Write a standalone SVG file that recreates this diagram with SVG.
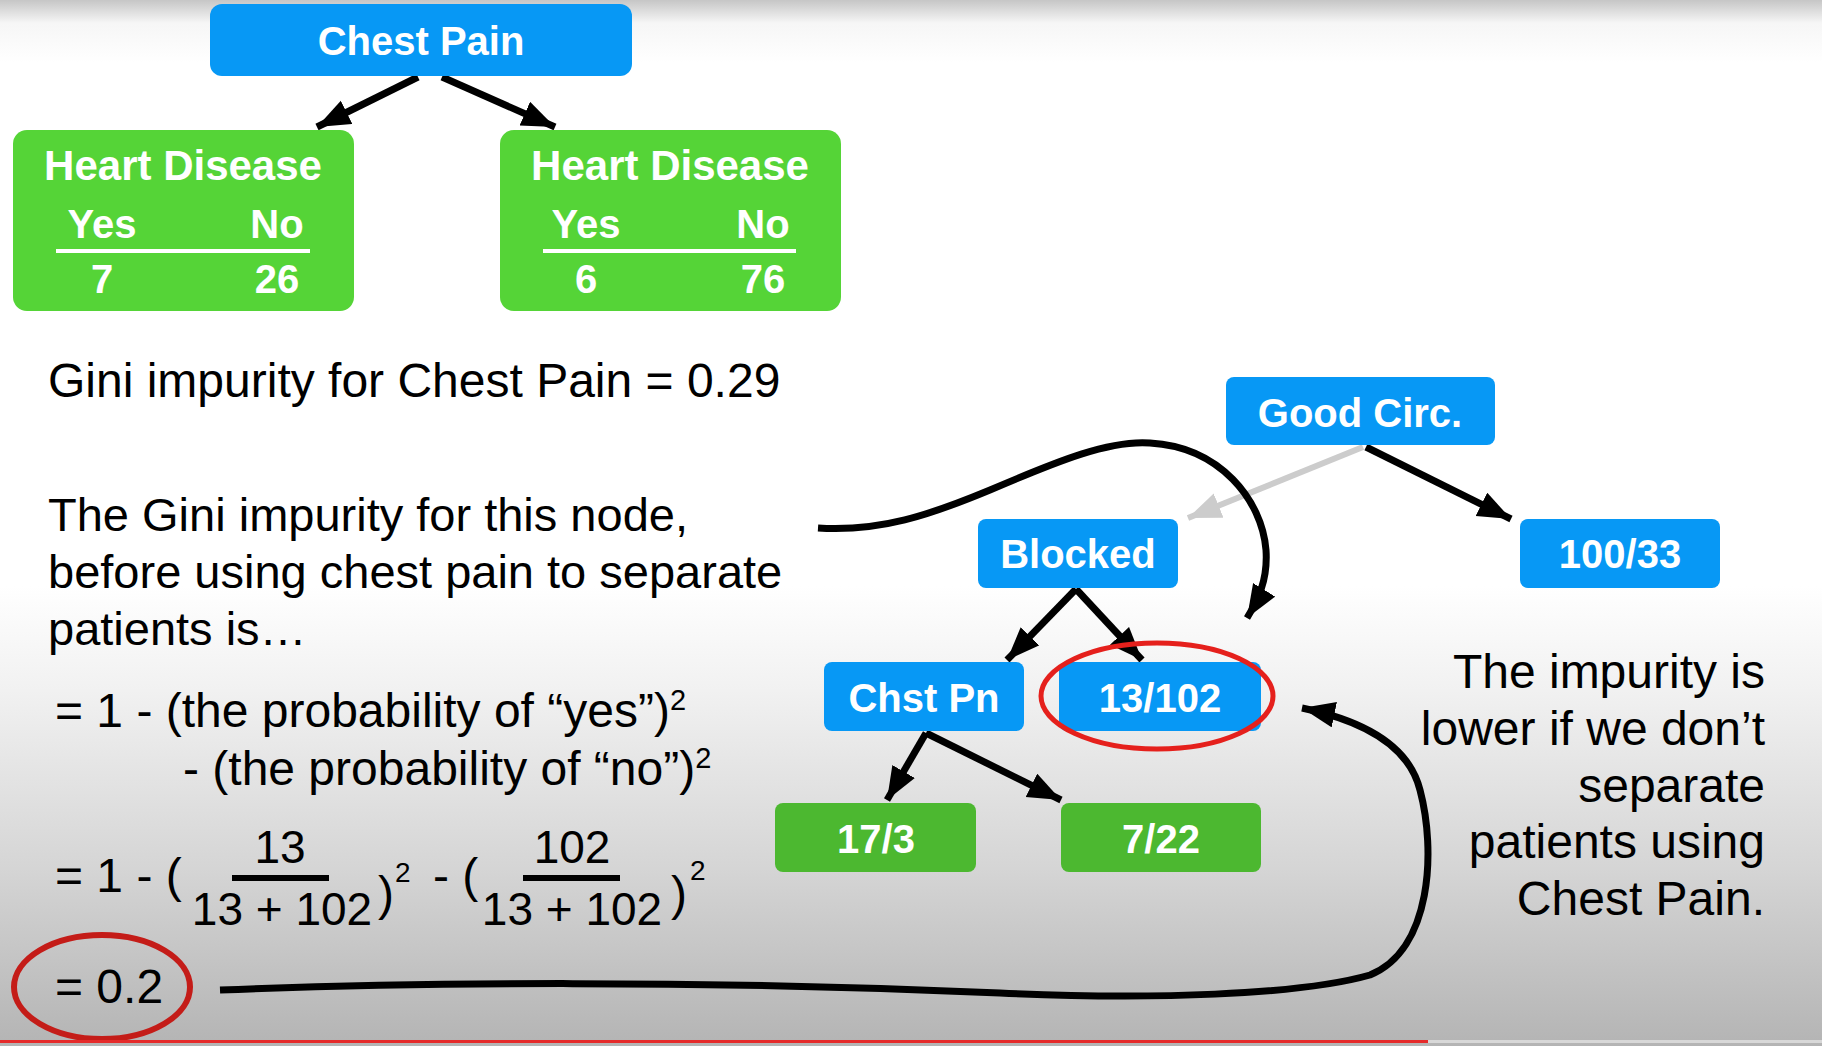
<svg xmlns="http://www.w3.org/2000/svg" width="1822" height="1046" viewBox="0 0 1822 1046">
<defs>
<linearGradient id="bg" x1="0" y1="0" x2="0" y2="1046" gradientUnits="userSpaceOnUse">
<stop offset="0" stop-color="#c6c6c6"/>
<stop offset="0.022" stop-color="#f6f6f6"/>
<stop offset="0.06" stop-color="#ffffff"/>
<stop offset="0.56" stop-color="#ffffff"/>
<stop offset="0.66" stop-color="#f1f1f1"/>
<stop offset="0.83" stop-color="#d5d5d5"/>
<stop offset="1" stop-color="#b4b4b4"/>
</linearGradient>
<marker id="ah" markerUnits="userSpaceOnUse" markerWidth="36" markerHeight="28" refX="33" refY="13" orient="auto">
<path d="M0,0 L33,13 L0,26 z" fill="#000"/>
</marker>
<marker id="ahg" markerUnits="userSpaceOnUse" markerWidth="36" markerHeight="28" refX="33" refY="13" orient="auto">
<path d="M0,0 L33,13 L0,26 z" fill="#cccccc"/>
</marker>
<style>
.blue{fill:#0798f5}
.green{fill:#55d437}
.dgreen{fill:#4cb830}
.lbl{font-family:"Liberation Sans",Arial,sans-serif;font-weight:bold;fill:#fff;font-size:40px;text-anchor:middle}
.body{font-family:"Liberation Sans",Arial,sans-serif;fill:#000;font-size:48px}
.sup{font-size:29px}
.con{fill:none;stroke:#000;stroke-width:7}
</style>
</defs>
<rect x="0" y="0" width="1822" height="1046" fill="url(#bg)"/>

<g id="connectors">
<path class="con" d="M418,77 L317,127" marker-end="url(#ah)"/>
<path class="con" d="M442,77 L555,127" marker-end="url(#ah)"/>
<path d="M1363,447 L1188,518" fill="none" stroke="#cccccc" stroke-width="6" marker-end="url(#ahg)"/>
<path class="con" d="M1366,447 L1511,519" marker-end="url(#ah)"/>
<path class="con" d="M1076,589 L1007,660" marker-end="url(#ah)"/>
<path class="con" d="M1076,589 L1142,660" marker-end="url(#ah)"/>
<path class="con" d="M926,733 L887,800" marker-end="url(#ah)"/>
<path class="con" d="M926,733 L1061,800" marker-end="url(#ah)"/>
<path class="con" d="M818,528 C880,532 930,515 990,490 C1060,460 1110,440 1150,443 C1220,447 1262,500 1266,550 C1268,580 1258,600 1247,618" marker-end="url(#ah)"/>
<path class="con" d="M220,990 C420,982 700,980 1000,993 C1150,1000 1300,995 1370,975 C1432,950 1436,850 1420,790 C1410,750 1370,722 1302,708" marker-end="url(#ah)"/>
</g>

<g id="node-chest-pain">
<rect class="blue" x="210" y="4" width="422" height="72" rx="12"/>
<text class="lbl" x="421" y="55" font-size="41">Chest Pain</text>
</g>

<g id="node-hd-left">
<rect class="green" x="13" y="130" width="341" height="181" rx="14"/>
<text class="lbl" x="183" y="180" style="font-size:42px">Heart Disease</text>
<text class="lbl" x="102" y="238">Yes</text>
<text class="lbl" x="277" y="238">No</text>
<rect x="56" y="249" width="254" height="4" fill="#fff"/>
<text class="lbl" x="102" y="293">7</text>
<text class="lbl" x="277" y="293">26</text>
</g>

<g id="node-hd-right">
<rect class="green" x="500" y="130" width="341" height="181" rx="14"/>
<text class="lbl" x="670" y="180" style="font-size:42px">Heart Disease</text>
<text class="lbl" x="586" y="238">Yes</text>
<text class="lbl" x="763" y="238">No</text>
<rect x="543" y="249" width="253" height="4" fill="#fff"/>
<text class="lbl" x="586" y="293">6</text>
<text class="lbl" x="763" y="293">76</text>
</g>

<g id="node-good-circ">
<rect class="blue" x="1226" y="377" width="269" height="68" rx="8"/>
<text class="lbl" x="1360" y="427">Good Circ.</text>
</g>

<g id="node-blocked">
<rect class="blue" x="978" y="519" width="200" height="69" rx="8"/>
<text class="lbl" x="1078" y="568">Blocked</text>
</g>

<g id="node-100-33">
<rect class="blue" x="1520" y="519" width="200" height="69" rx="8"/>
<text class="lbl" x="1620" y="568">100/33</text>
</g>

<g id="node-chst-pn">
<rect class="blue" x="824" y="662" width="200" height="69" rx="8"/>
<text class="lbl" x="924" y="712">Chst Pn</text>
</g>

<g id="node-13-102">
<rect class="blue" x="1059" y="662" width="202" height="69" rx="8"/>
<text class="lbl" x="1160" y="712">13/102</text>
</g>

<g id="node-17-3">
<rect class="dgreen" x="775" y="803" width="201" height="69" rx="8"/>
<text class="lbl" x="876" y="853">17/3</text>
</g>

<g id="node-7-22">
<rect class="dgreen" x="1061" y="803" width="200" height="69" rx="8"/>
<text class="lbl" x="1161" y="853">7/22</text>
</g>

<g id="highlights">
<ellipse cx="1157" cy="696" rx="116" ry="53" fill="none" stroke="#e5201c" stroke-width="5"/>
<ellipse cx="102" cy="987" rx="88" ry="52" fill="none" stroke="#c41c18" stroke-width="6"/>
</g>

<g id="text">
<text class="body" x="48" y="397">Gini impurity for Chest Pain = 0.29</text>
<text class="body" x="48" y="531" style="font-size:47px">The Gini impurity for this node,</text>
<text class="body" x="48" y="588" style="font-size:47px">before using chest pain to separate</text>
<text class="body" x="48" y="645" style="font-size:47px">patients is…</text>
<text class="body" x="55" y="727">= 1 - (the probability of “yes”)<tspan class="sup" dy="-17">2</tspan></text>
<text class="body" x="183" y="785">- (the probability of “no”)<tspan class="sup" dy="-17">2</tspan></text>
<text class="body" x="55" y="892">= 1 - (</text>
<text class="body" x="280" y="863" text-anchor="middle" style="font-size:46px">13</text>
<rect x="232" y="875" width="97" height="6" fill="#000"/>
<text class="body" x="282" y="925" text-anchor="middle" style="font-size:46px">13 + 102</text>
<text class="body" x="378" y="910">)</text>
<text class="body" x="395" y="882" style="font-size:28px">2</text>
<text class="body" x="433" y="892">- (</text>
<text class="body" x="572" y="863" text-anchor="middle" style="font-size:46px">102</text>
<rect x="523" y="875" width="97" height="6" fill="#000"/>
<text class="body" x="572" y="925" text-anchor="middle" style="font-size:46px">13 + 102</text>
<text class="body" x="671" y="910">)</text>
<text class="body" x="690" y="880" style="font-size:28px">2</text>
<text class="body" x="55" y="1003">= 0.2</text>
<text class="body" x="1765" y="688" text-anchor="end">The impurity is</text>
<text class="body" x="1765" y="745" text-anchor="end">lower if we don’t</text>
<text class="body" x="1765" y="802" text-anchor="end">separate</text>
<text class="body" x="1765" y="858" text-anchor="end">patients using</text>
<text class="body" x="1765" y="915" text-anchor="end">Chest Pain.</text>
</g>

<g id="progress">
<rect x="0" y="1040" width="1428" height="3" fill="#e52a2a"/>
<rect x="1428" y="1040" width="394" height="3" fill="#d8d8d8"/>
</g>
</svg>
